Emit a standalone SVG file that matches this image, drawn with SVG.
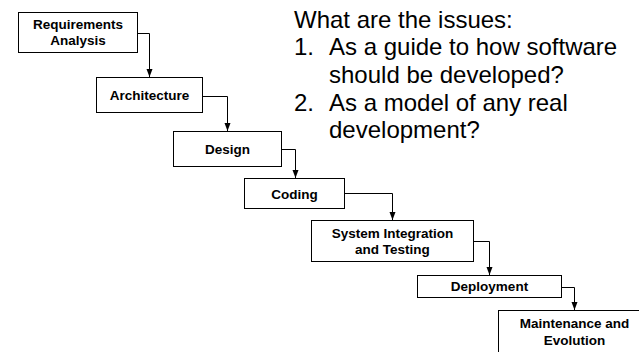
<svg xmlns="http://www.w3.org/2000/svg" width="639" height="352" viewBox="0 0 639 352">
<style>
.box{fill:#fff;stroke:#000;stroke-width:1}
.lbl{font-family:"Liberation Sans",Arial,sans-serif;font-weight:bold;font-size:13.5px;fill:#000;text-anchor:middle}
.con{fill:none;stroke:#000;stroke-width:1}
.note{font-family:"Liberation Sans",Arial,sans-serif;font-size:24px;fill:#000}
</style>
<defs>
<marker id="arr" markerUnits="userSpaceOnUse" markerWidth="8" markerHeight="8" viewBox="0 0 8 8" refX="8" refY="4" orient="auto">
<path d="M0,1 L8,4 L0,7 Z" fill="#000"/>
</marker>
</defs>
<rect width="639" height="352" fill="#fff"/>
<g id="connectors">
<path class="con" d="M137.5,33.5 H149.5 V77" marker-end="url(#arr)"/>
<path class="con" d="M202.5,96.5 H227.5 V131" marker-end="url(#arr)"/>
<path class="con" d="M281.5,149.5 H295.5 V178" marker-end="url(#arr)"/>
<path class="con" d="M344.5,193.5 H392.5 V220" marker-end="url(#arr)"/>
<path class="con" d="M473.5,241.5 H489.5 V275" marker-end="url(#arr)"/>
<path class="con" d="M561.5,287.5 H574.5 V310" marker-end="url(#arr)"/>
</g>
<g id="requirements">
<rect class="box" x="18.5" y="12.5" width="119" height="40"/>
<text class="lbl" x="78" y="29.3">Requirements</text>
<text class="lbl" x="78" y="45.3">Analysis</text>
</g>
<g id="architecture">
<rect class="box" x="96.5" y="77.5" width="106" height="35"/>
<text class="lbl" x="149.5" y="100">Architecture</text>
</g>
<g id="design">
<rect class="box" x="173.5" y="131.5" width="108" height="35"/>
<text class="lbl" x="227.5" y="153.5">Design</text>
</g>
<g id="coding">
<rect class="box" x="244.5" y="178.5" width="100" height="30"/>
<text class="lbl" x="294.5" y="199">Coding</text>
</g>
<g id="integration">
<rect class="box" x="311.5" y="220.5" width="162" height="41"/>
<text class="lbl" x="392.5" y="238.3">System Integration</text>
<text class="lbl" x="392.5" y="254.3">and Testing</text>
</g>
<g id="deployment">
<rect class="box" x="417.5" y="275.5" width="144" height="22"/>
<text class="lbl" x="489.5" y="291">Deployment</text>
</g>
<g id="maintenance">
<rect class="box" x="498.5" y="310.5" width="152" height="50"/>
<text class="lbl" x="574.5" y="327.7">Maintenance and</text>
<text class="lbl" x="574.5" y="345">Evolution</text>
</g>
<g id="notes">
<text class="note" x="294" y="27.6">What are the issues:</text>
<text class="note" x="294" y="55.4">1.</text>
<text class="note" x="329" y="55.4">As a guide to how software</text>
<text class="note" x="329" y="83">should be developed?</text>
<text class="note" x="294" y="110.8">2.</text>
<text class="note" x="329" y="110.8">As a model of any real</text>
<text class="note" x="329" y="138">development?</text>
</g>
</svg>
